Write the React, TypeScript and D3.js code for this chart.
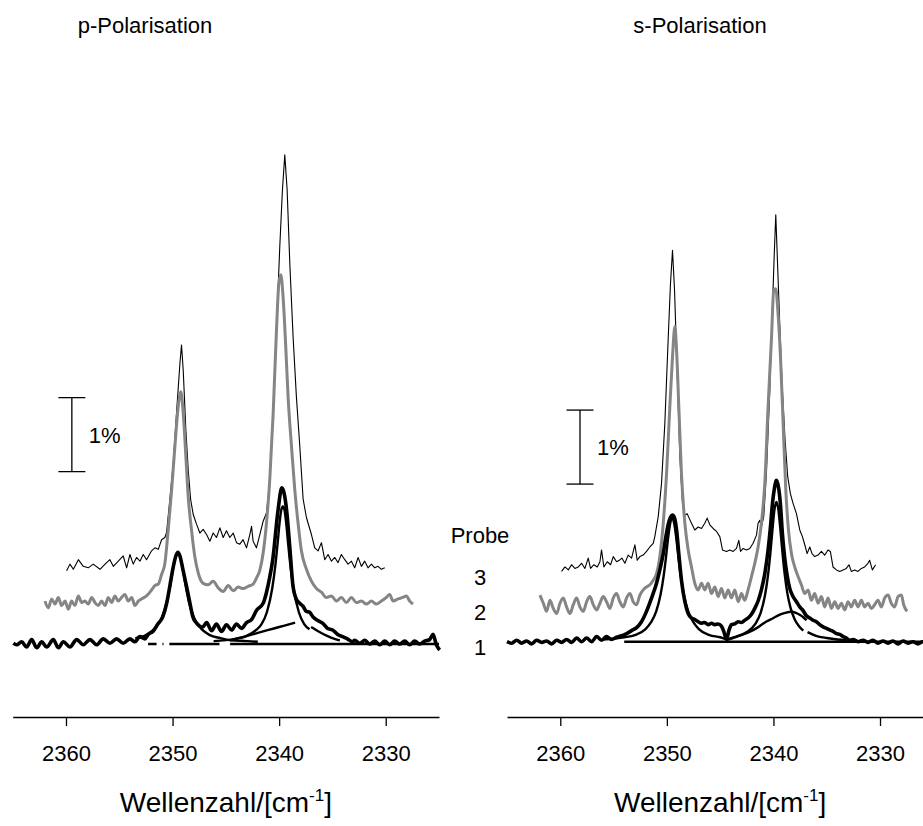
import React, { useEffect, useRef } from "react";
import * as d3 from "d3";

type Pt = [number, number];

// ---------- text ----------
const panelTitles = ["p-Polarisation", "s-Polarisation"];
const tickValues = [2360, 2350, 2340, 2330];
const probeLabels = ["Probe", "3", "2", "1"];
const scaleLabel = "1%";

// ---------- p-Polarisation (left) : wavenumber [cm-1], signal [%] ----------
const pProbe3: Pt[] = [
  [2359.94,0.98],[2359.63,1.07],[2359.31,1.00],[2358.84,1.13],[2358.38,1.04],[2357.91,1.02],[2357.44,1.07],[2356.81,1.00],[2356.19,1.09],[2355.88,1.13],[2355.56,1.04],[2355.09,1.11],[2354.63,1.18],[2354.31,1.02],[2354.0,1.20],[2353.69,1.07],[2353.38,1.16],[2353.06,1.11],[2352.75,1.20],[2352.44,1.13],[2351.97,1.25],[2351.66,1.29],[2351.34,1.27],[2351.03,1.40],[2350.72,1.43],[2350.56,1.50],[2350.25,1.95],[2349.94,2.43],[2349.63,3.11],[2349.31,3.78],[2349.16,4.03],[2349.0,3.69],[2348.75,2.88],[2348.53,2.34],[2348.31,1.95],[2348.06,1.74],[2347.75,1.61],[2347.44,1.49],[2347.13,1.54],[2346.81,1.47],[2346.5,1.38],[2346.19,1.49],[2345.88,1.43],[2345.56,1.56],[2345.25,1.43],[2344.94,1.52],[2344.63,1.43],[2344.31,1.49],[2344.0,1.36],[2343.69,1.34],[2343.38,1.40],[2343.06,1.29],[2342.75,1.47],[2342.59,1.58],[2342.44,1.38],[2342.13,1.29],[2341.81,1.47],[2341.5,1.65],[2341.19,1.76],[2340.88,2.18],[2340.56,3.11],[2340.25,4.23],[2339.94,5.36],[2339.69,6.13],[2339.47,6.60],[2339.25,6.13],[2339.0,5.14],[2338.69,4.14],[2338.38,3.33],[2338.06,2.66],[2337.75,1.95],[2337.44,1.70],[2336.97,1.47],[2336.66,1.29],[2336.34,1.25],[2336.03,1.36],[2335.72,1.13],[2335.41,1.20],[2335.09,1.11],[2334.78,1.16],[2334.47,1.09],[2334.16,1.20],[2333.84,1.13],[2333.53,1.07],[2333.22,1.11],[2332.91,1.02],[2332.59,1.16],[2332.28,1.04],[2331.97,1.11],[2331.66,1.02],[2331.34,1.07],[2331.03,1.02],[2330.72,1.04],[2330.41,1.00],[2330.09,1.02]
];
const pProbe2: Pt[] = [
  [2361.97,0.57],[2361.66,0.48],[2361.34,0.60],[2361.03,0.53],[2360.72,0.62],[2360.41,0.51],[2360.09,0.57],[2359.78,0.46],[2359.47,0.57],[2359.16,0.51],[2358.84,0.64],[2358.53,0.55],[2358.22,0.57],[2357.91,0.53],[2357.59,0.62],[2357.28,0.55],[2356.97,0.51],[2356.66,0.57],[2356.34,0.51],[2356.03,0.62],[2355.72,0.55],[2355.41,0.64],[2355.09,0.57],[2354.78,0.62],[2354.47,0.66],[2354.16,0.57],[2353.84,0.62],[2353.53,0.51],[2353.22,0.57],[2352.91,0.60],[2352.44,0.64],[2351.97,0.72],[2351.66,0.78],[2351.34,0.80],[2351.03,0.93],[2350.72,1.08],[2350.41,1.53],[2350.09,2.07],[2349.78,2.66],[2349.47,3.20],[2349.22,3.40],[2349.0,3.11],[2348.75,2.52],[2348.53,1.98],[2348.22,1.53],[2347.91,1.17],[2347.59,0.95],[2347.13,0.81],[2346.66,0.79],[2346.19,0.84],[2345.72,0.75],[2345.25,0.70],[2344.78,0.78],[2344.31,0.71],[2343.84,0.76],[2343.38,0.74],[2342.91,0.77],[2342.44,0.80],[2342.13,0.88],[2341.81,0.99],[2341.5,1.22],[2341.19,1.62],[2340.88,2.21],[2340.56,3.11],[2340.25,4.23],[2340.03,4.86],[2339.84,4.98],[2339.63,4.68],[2339.38,4.01],[2339.16,3.33],[2338.84,2.66],[2338.53,2.07],[2338.22,1.62],[2337.91,1.25],[2337.44,1.00],[2336.97,0.84],[2336.5,0.74],[2336.03,0.69],[2335.56,0.62],[2335.09,0.64],[2334.63,0.57],[2334.16,0.62],[2333.69,0.55],[2333.22,0.62],[2332.75,0.55],[2332.28,0.57],[2331.81,0.53],[2331.34,0.57],[2330.88,0.53],[2330.41,0.57],[2329.94,0.62],[2329.63,0.66],[2329.31,0.57],[2328.84,0.60],[2328.38,0.62],[2328.06,0.64],[2327.75,0.57],[2327.44,0.53]
];
const pProbe1: Pt[] = [
  [2364.94,0],[2364.63,-0.02],[2364.16,0.02],[2363.69,-0.05],[2363.22,0.05],[2362.75,-0.06],[2362.28,0.02],[2361.81,-0.05],[2361.19,0.05],[2360.72,-0.06],[2360.25,0.02],[2359.63,-0.05],[2359.0,0.05],[2358.38,-0.02],[2357.75,0.05],[2357.13,-0.02],[2356.5,0.06],[2355.88,0],[2355.25,0.06],[2354.63,0],[2354.0,0.06],[2353.53,0.02],[2353.07,0.09],[2352.59,0.06],[2352.28,0.12],[2351.85,0.16],[2351.38,0.26],[2350.91,0.36],[2350.54,0.55],[2350.26,0.77],[2349.98,1.0],[2349.69,1.18],[2349.5,1.23],[2349.31,1.18],[2349.03,1.0],[2348.69,0.77],[2348.38,0.55],[2348.1,0.36],[2347.73,0.27],[2347.17,0.22],[2346.81,0.28],[2346.34,0.17],[2345.88,0.26],[2345.41,0.16],[2344.94,0.25],[2344.47,0.18],[2344.0,0.26],[2343.53,0.2],[2343.06,0.28],[2342.59,0.32],[2342.1,0.45],[2341.5,0.54],[2341.2,0.68],[2340.9,0.88],[2340.6,1.13],[2340.1,1.8],[2339.75,2.1],[2339.3,1.8],[2339.0,1.3],[2338.7,0.77],[2338.4,0.6],[2338.07,0.54],[2337.75,0.5],[2337.45,0.43],[2337.15,0.42],[2336.85,0.36],[2336.4,0.31],[2335.9,0.27],[2335.45,0.2],[2334.98,0.18],[2334.5,0.12],[2334.05,0.09],[2333.6,0.06],[2333.1,0.02],[2332.91,0.04],[2332.44,0.0],[2331.97,0.04],[2331.5,-0.01],[2331.03,0.03],[2330.56,-0.02],[2330.09,0.03],[2329.63,-0.02],[2329.16,0.03],[2328.69,-0.01],[2328.22,0.03],[2327.75,-0.02],[2327.28,0.03],[2326.81,-0.01],[2326.34,0.03],[2325.88,0.05],[2325.56,0.12],[2325.25,-0.02],[2324.94,-0.09]
];
const pFitPeak1: Pt[] = [
  [2353.5,0.07],[2352.5,0.11],[2351.5,0.23],[2351,0.35],[2350.5,0.58],[2350.2,0.8],[2349.9,1.05],[2349.7,1.18],[2349.5,1.23],[2349.3,1.18],[2349.1,1.05],[2348.8,0.8],[2348.5,0.58],[2348,0.35],[2347.5,0.23],[2346.5,0.11],[2345.5,0.07],[2344.5,0.04],[2343,0.03],[2342,0.02]
];
const pFitPeak2: Pt[] = [
  [2346.15,0.03],[2344.15,0.06],[2343.15,0.095],[2342.15,0.18],[2341.65,0.26],[2341.15,0.42],[2340.65,0.74],[2340.35,1.06],[2340.15,1.34],[2339.95,1.64],[2339.8,1.8],[2339.65,1.85],[2339.5,1.8],[2339.35,1.64],[2339.15,1.34],[2338.95,1.06],[2338.65,0.74],[2338.15,0.42],[2337.65,0.26],[2337.15,0.19]
];
const pFitBroad: Pt[] = [
  [2344.6,0.04],[2343.5,0.08],[2342.5,0.12],[2341.5,0.16],[2340.5,0.2],[2339.5,0.24],[2338.5,0.28],[2338.2,NaN],[2337.0,0.22],[2336.3,0.16],[2335.5,0.1],[2334.8,0.06],[2334.3,0.04]
];
const pFitBase: Pt[] = [
  [2352.3,-0.01],[2351.5,-0.01],[2351.3,NaN],[2350.95,-0.01],[2350.85,-0.01],[2350.6,NaN],[2350.3,-0.01],[2345.6,-0.01],[2345.1,NaN],[2344.6,-0.01],[2325,-0.01]
];
const pScaleBar: Pt[] = [[2359.45,2.32],[2359.45,3.32]];

// ---------- s-Polarisation (right) ----------
const sProbe3: Pt[] = [
  [2359.88,0.95],[2359.56,1.01],[2359.25,0.97],[2358.94,1.04],[2358.63,0.99],[2358.31,1.01],[2358.0,1.06],[2357.69,0.99],[2357.38,1.13],[2357.16,0.99],[2356.84,1.04],[2356.53,1.01],[2356.28,1.08],[2356.13,1.24],[2355.91,1.01],[2355.59,1.08],[2355.28,1.04],[2355.03,1.15],[2354.72,1.08],[2354.47,1.10],[2354.22,1.13],[2353.94,1.06],[2353.63,1.17],[2353.31,1.13],[2353.0,1.31],[2352.78,1.10],[2352.53,1.15],[2352.22,1.17],[2351.91,1.22],[2351.59,1.28],[2351.28,1.33],[2351.13,1.42],[2350.81,1.69],[2350.5,2.14],[2350.19,2.95],[2349.88,4.08],[2349.66,4.84],[2349.47,5.29],[2349.28,4.75],[2349.03,3.63],[2348.78,2.50],[2348.53,1.87],[2348.31,1.71],[2348.09,1.73],[2347.91,1.67],[2347.69,1.60],[2347.38,1.51],[2347.06,1.55],[2346.75,1.53],[2346.44,1.60],[2346.22,1.67],[2345.97,1.58],[2345.66,1.53],[2345.34,1.49],[2345.03,1.42],[2344.78,1.24],[2344.41,1.22],[2344.09,1.24],[2343.78,1.22],[2343.47,1.26],[2343.25,1.37],[2343.09,1.22],[2342.84,1.26],[2342.53,1.24],[2342.22,1.26],[2341.91,1.33],[2341.59,1.44],[2341.44,1.60],[2341.28,1.64],[2341.13,1.55],[2340.91,1.69],[2340.66,2.27],[2340.34,3.40],[2340.09,4.53],[2339.91,5.29],[2339.78,5.77],[2339.66,5.29],[2339.41,4.30],[2339.16,3.40],[2338.91,2.73],[2338.66,2.23],[2338.41,2.00],[2338.16,1.87],[2337.84,1.73],[2337.53,1.51],[2337.28,1.42],[2337.06,1.31],[2336.84,1.19],[2336.59,1.28],[2336.38,1.19],[2336.13,1.15],[2335.81,1.17],[2335.5,1.22],[2335.19,1.17],[2334.88,1.24],[2334.66,1.22],[2334.41,1.01],[2334.09,0.97],[2333.78,0.95],[2333.47,0.97],[2333.16,0.99],[2332.91,1.04],[2332.69,0.95],[2332.38,0.97],[2332.06,0.95],[2331.75,0.99],[2331.44,1.01],[2331.13,1.06],[2330.97,1.10],[2330.72,0.97],[2330.41,1.04]
];
const sProbe2: Pt[] = [
  [2361.91,0.63],[2361.59,0.52],[2361.28,0.41],[2360.97,0.56],[2360.66,0.45],[2360.34,0.38],[2360.03,0.52],[2359.72,0.59],[2359.41,0.47],[2359.09,0.38],[2358.78,0.50],[2358.47,0.59],[2358.16,0.47],[2357.84,0.41],[2357.53,0.54],[2357.22,0.61],[2356.91,0.50],[2356.59,0.43],[2356.28,0.52],[2355.97,0.61],[2355.66,0.54],[2355.34,0.45],[2355.03,0.59],[2354.72,0.65],[2354.41,0.54],[2354.09,0.47],[2353.78,0.59],[2353.47,0.65],[2353.16,0.54],[2352.84,0.50],[2352.53,0.63],[2352.22,0.70],[2351.91,0.74],[2351.59,0.77],[2351.28,0.83],[2350.97,0.92],[2350.66,1.15],[2350.34,1.60],[2350.03,2.27],[2349.72,3.18],[2349.47,3.85],[2349.25,4.26],[2349.09,3.94],[2348.88,3.18],[2348.63,2.27],[2348.31,1.60],[2348.0,1.24],[2347.69,1.01],[2347.38,0.79],[2347.06,0.70],[2346.75,0.79],[2346.44,0.70],[2346.13,0.79],[2345.81,0.65],[2345.5,0.74],[2345.19,0.61],[2344.88,0.72],[2344.56,0.59],[2344.25,0.70],[2343.94,0.59],[2343.63,0.70],[2343.31,0.54],[2343.0,0.65],[2342.69,0.56],[2342.38,0.70],[2342.06,0.88],[2341.75,1.06],[2341.44,1.28],[2341.13,1.60],[2340.81,2.14],[2340.5,3.18],[2340.19,4.08],[2339.97,4.75],[2339.78,4.77],[2339.59,4.48],[2339.34,3.85],[2339.09,2.95],[2338.84,2.05],[2338.59,1.51],[2338.31,1.19],[2338.0,1.01],[2337.69,0.88],[2337.38,0.77],[2337.06,0.65],[2336.75,0.70],[2336.44,0.56],[2336.13,0.65],[2335.81,0.52],[2335.5,0.61],[2335.19,0.47],[2334.88,0.59],[2334.56,0.45],[2334.25,0.54],[2333.94,0.45],[2333.63,0.52],[2333.31,0.43],[2333.0,0.54],[2332.69,0.47],[2332.38,0.56],[2332.06,0.47],[2331.75,0.56],[2331.44,0.47],[2331.13,0.52],[2330.81,0.45],[2330.5,0.50],[2330.19,0.56],[2329.88,0.47],[2329.56,0.59],[2329.25,0.63],[2328.94,0.52],[2328.63,0.47],[2328.31,0.61],[2328.0,0.63],[2327.78,0.50],[2327.47,0.41]
];
const sProbe1: Pt[] = [
  [2365.0,0],[2364.56,-0.02],[2364.09,0.02],[2363.63,-0.02],[2363.16,0.01],[2362.69,-0.03],[2362.22,0.02],[2361.75,-0.01],[2361.28,0.01],[2360.81,-0.03],[2360.34,0.02],[2359.88,-0.01],[2359.41,0.03],[2358.94,-0.01],[2358.47,0.05],[2358.0,0],[2357.53,0.05],[2357.06,0],[2356.59,0.07],[2356.13,0.02],[2355.66,0.07],[2355.19,0.03],[2354.72,0.06],[2354.25,0.08],[2353.78,0.11],[2353.31,0.15],[2352.84,0.19],[2352.38,0.27],[2351.91,0.41],[2351.44,0.59],[2350.97,0.79],[2350.66,0.97],[2350.34,1.19],[2350.09,1.42],[2349.88,1.58],[2349.66,1.68],[2349.47,1.71],[2349.28,1.67],[2349.09,1.51],[2348.88,1.19],[2348.63,0.83],[2348.31,0.54],[2348.0,0.38],[2347.69,0.32],[2347.38,0.30],[2347.06,0.27],[2346.75,0.25],[2346.44,0.26],[2346.13,0.23],[2345.81,0.25],[2345.5,0.23],[2345.19,0.24],[2344.88,0.21],[2344.66,0.14],[2344.41,0.03],[2344.16,0.16],[2343.94,0.23],[2343.63,0.24],[2343.31,0.27],[2343.0,0.26],[2342.69,0.29],[2342.38,0.32],[2342.06,0.37],[2341.75,0.45],[2341.44,0.55],[2341.13,0.70],[2340.81,0.92],[2340.5,1.24],[2340.28,1.55],[2340.09,1.87],[2339.91,2.07],[2339.72,2.18],[2339.53,2.09],[2339.34,1.85],[2339.16,1.46],[2338.94,1.13],[2338.72,0.90],[2338.47,0.72],[2338.16,0.61],[2337.84,0.54],[2337.53,0.47],[2337.22,0.42],[2336.91,0.35],[2336.59,0.32],[2336.28,0.29],[2335.97,0.27],[2335.66,0.23],[2335.34,0.20],[2335.03,0.18],[2334.72,0.16],[2334.41,0.14],[2334.09,0.11],[2333.78,0.10],[2333.47,0.07],[2333.16,0.05],[2332.84,0.02],[2332.53,0.03],[2332.06,0],[2331.59,0.02],[2331.13,-0.01],[2330.66,0.02],[2330.19,-0.02],[2329.72,0.01],[2329.25,-0.02],[2328.78,0.01],[2328.31,-0.03],[2327.84,0.01],[2327.38,-0.02],[2326.91,0],[2326.44,-0.03],[2326.0,0],[2325.5,-0.02],[2325.0,0]
];
const sFitPeak1: Pt[] = [
  [2356,0.03],[2354,0.06],[2353,0.09],[2352,0.17],[2351.5,0.26],[2351,0.41],[2350.6,0.63],[2350.3,0.89],[2350.1,1.12],[2349.9,1.38],[2349.7,1.59],[2349.5,1.68],[2349.3,1.59],[2349.1,1.38],[2348.9,1.12],[2348.7,0.89],[2348.4,0.63],[2348.0,0.41],[2347.5,0.26],[2347,0.17],[2346,0.09],[2345,0.06],[2344.4,0.03]
];
const sFitPeak2: Pt[] = [
  [2344.4,0.03],[2343.5,0.07],[2342.5,0.13],[2341.7,0.24],[2341.2,0.39],[2340.8,0.62],[2340.5,0.91],[2340.3,1.18],[2340.1,1.5],[2339.9,1.79],[2339.72,1.89],[2339.55,1.8],[2339.35,1.52],[2339.15,1.2],[2338.95,0.92],[2338.7,0.66],[2338.4,0.46],[2338.0,0.3],[2337.6,0.21],[2337.2,0.15],[2337.0,NaN],[2336.8,0.13],[2336,0.08],[2335,0.05],[2334,0.03],[2333.1,0.02]
];
const sFitBroad: Pt[] = [
  [2344.4,0.02],[2343.8,0.05],[2343,0.09],[2342.2,0.135],[2341.5,0.19],[2340.7,0.27],[2340,0.32],[2339.5,0.36],[2338.9,0.39],[2338.3,0.405],[2337.9,0.39],[2337.5,0.36],[2337.2,0.33],[2336.9,0.29]
];
const sFitBase: Pt[] = [[2354,0],[2325,0]];
const sScaleBar: Pt[] = [[2358.15,2.13],[2358.15,3.13]];

const FONT = "'Liberation Sans', Arial, Helvetica, sans-serif";

export default function App() {
  const ref = useRef<SVGSVGElement | null>(null);

  useEffect(() => {
    const svg = d3.select(ref.current);
    svg.selectAll("*").remove();

    const axisY = 717;
    const panels = [
      {
        title: panelTitles[0], titleX: 145,
        x: d3.scaleLinear().domain([2365, 2325]).range([12.7, 439]),
        y: d3.scaleLinear().domain([0, 1]).range([643.3, 569.3]),
        p3: pProbe3, p2: pProbe2, p1: pProbe1,
        fits: [pFitPeak1, pFitPeak2, pFitBroad], base: pFitBase, bar: pScaleBar,
      },
      {
        title: panelTitles[1], titleX: 700,
        x: d3.scaleLinear().domain([2365, 2325]).range([507, 933.3]),
        y: d3.scaleLinear().domain([0, 1]).range([641.7, 567.7]),
        p3: sProbe3, p2: sProbe2, p1: sProbe1,
        fits: [sFitPeak1, sFitPeak2, sFitBroad], base: sFitBase, bar: sScaleBar,
      },
    ];

    panels.forEach((p) => {
      const g = svg.append("g");
      const line = d3
        .line<Pt>()
        .defined((d) => !isNaN(d[1]))
        .x((d) => p.x(d[0]))
        .y((d) => p.y(d[1]));
      const smooth = d3
        .line<Pt>()
        .defined((d) => !isNaN(d[1]))
        .curve(d3.curveMonotoneX)
        .x((d) => p.x(d[0]))
        .y((d) => p.y(d[1]));

      g.append("text")
        .attr("x", p.titleX)
        .attr("y", 33)
        .attr("text-anchor", "middle")
        .attr("font-family", FONT)
        .attr("font-size", 22)
        .text(p.title);

      const axis = d3
        .axisBottom(p.x)
        .tickValues(tickValues)
        .tickSize(9)
        .tickSizeOuter(0)
        .tickPadding(19)
        .tickFormat(d3.format("d"));
      const ag = g.append("g").attr("transform", `translate(0,${axisY})`).call(axis);
      ag.select(".domain").attr("stroke", "#000").attr("stroke-width", 1.3);
      ag.selectAll(".tick line").attr("stroke", "#000").attr("stroke-width", 1.3);
      ag.selectAll(".tick text")
        .attr("font-family", FONT)
        .attr("font-size", 22)
        .attr("fill", "#000");

      const [r0, r1] = p.x.range();
      const t = g
        .append("text")
        .attr("x", (r0 + r1) / 2)
        .attr("y", 812)
        .attr("text-anchor", "middle")
        .attr("font-family", FONT)
        .attr("font-size", 28);
      t.append("tspan").text("Wellenzahl/[cm");
      t.append("tspan").attr("dy", -11).attr("font-size", 17).text("-1");
      t.append("tspan").attr("dy", 11).text("]");

      g.append("path").attr("d", line(p.p3)).attr("fill", "none").attr("stroke", "#000").attr("stroke-width", 1.1).attr("stroke-linejoin", "round");
      g.append("path").attr("d", smooth(p.p2)).attr("fill", "none").attr("stroke", "#858585").attr("stroke-width", 3).attr("stroke-linejoin", "round");
      g.append("path").attr("d", line(p.base)).attr("fill", "none").attr("stroke", "#000").attr("stroke-width", 2.4);
      p.fits.forEach((f) => {
        g.append("path").attr("d", smooth(f)).attr("fill", "none").attr("stroke", "#000").attr("stroke-width", 2.4).attr("stroke-linejoin", "round");
      });
      g.append("path").attr("d", smooth(p.p1)).attr("fill", "none").attr("stroke", "#000").attr("stroke-width", 3.6).attr("stroke-linejoin", "round");

      const bx = p.x(p.bar[0][0]);
      const yb = p.y(p.bar[0][1]);
      const yt = p.y(p.bar[1][1]);
      g.append("line").attr("x1", bx).attr("x2", bx).attr("y1", yb).attr("y2", yt).attr("stroke", "#000").attr("stroke-width", 1.3);
      [yb, yt].forEach((yy) => {
        g.append("line").attr("x1", bx - 13.5).attr("x2", bx + 13.5).attr("y1", yy).attr("y2", yy).attr("stroke", "#000").attr("stroke-width", 1.3);
      });
      g.append("text")
        .attr("x", bx + 17)
        .attr("y", (yb + yt) / 2 + 8)
        .attr("font-family", FONT)
        .attr("font-size", 22)
        .text(scaleLabel);
    });

    const probeY = [543, 585, 620, 655];
    probeLabels.forEach((lab, i) => {
      svg.append("text")
        .attr("x", 480)
        .attr("y", probeY[i])
        .attr("text-anchor", "middle")
        .attr("font-family", FONT)
        .attr("font-size", 22)
        .text(lab);
    });
  }, []);

  return (
    <svg
      ref={ref}
      width={923}
      height={826}
      style={{ position: "absolute", left: 0, top: 0, background: "#fff" }}
    />
  );
}
